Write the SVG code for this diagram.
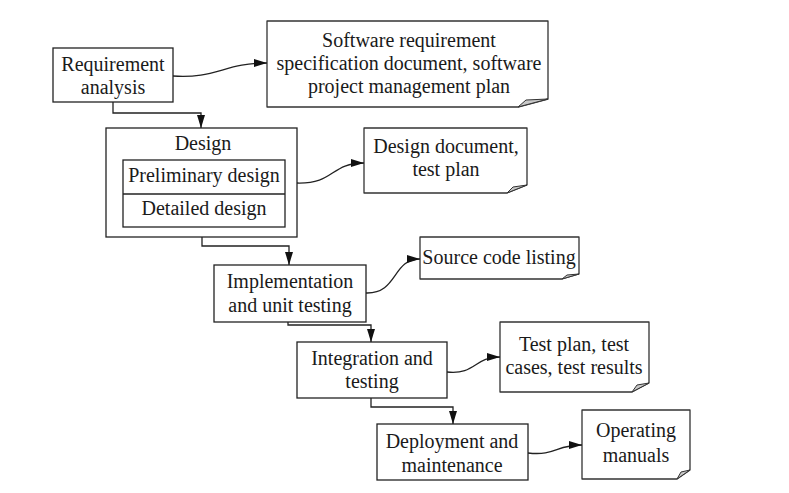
<svg xmlns="http://www.w3.org/2000/svg" width="789" height="493" viewBox="0 0 789 493">
<style>
.box{fill:#fff;stroke:#222;stroke-width:1.3}
.doc{fill:#fff;stroke:#333;stroke-width:1.3;stroke-linejoin:round}
.fold{fill:#c8c8c8;stroke:#333;stroke-width:1;stroke-linejoin:round}
.t{font-family:"Liberation Serif","Times New Roman",serif;font-size:20px;fill:#1a1a1a;text-anchor:middle}
.c{fill:none;stroke:#222;stroke-width:1.3}
</style>
<defs>
<marker id="ah" markerUnits="userSpaceOnUse" markerWidth="14" markerHeight="10" refX="13" refY="5" orient="auto">
<path d="M0,1 L13,5 L0,9 Z" fill="#111"/>
</marker>
</defs>
<rect width="789" height="493" fill="#fff"/>

<g id="req">
<rect class="box" x="53" y="48" width="120" height="54"/>
<text class="t" x="113" y="71">Requirement</text>
<text class="t" x="113" y="94">analysis</text>
</g>

<g id="doc1">
<path class="doc" d="M267,21 H548 V99 L518,107 H267 Z"/>
<path class="fold" d="M518,107 L526,100 L548,99 Z"/>
<text class="t" x="409" y="47">Software requirement</text>
<text class="t" x="409" y="70">specification document, software</text>
<text class="t" x="409" y="93">project management plan</text>
</g>

<g id="design">
<rect class="box" x="106" y="128" width="191" height="109"/>
<text class="t" x="203" y="150">Design</text>
<rect class="box" x="123" y="160" width="162" height="67"/>
<line class="box" x1="123" y1="194" x2="285" y2="194"/>
<text class="t" x="204" y="182">Preliminary design</text>
<text class="t" x="204" y="215">Detailed design</text>
</g>

<g id="doc2">
<path class="doc" d="M364,128 H527 V185 L507,193 H364 Z"/>
<path class="fold" d="M507,193 L513,187 L527,185 Z"/>
<text class="t" x="446" y="153">Design document,</text>
<text class="t" x="446" y="176">test plan</text>
</g>

<g id="impl">
<rect class="box" x="214" y="265" width="152" height="57"/>
<text class="t" x="290" y="288">Implementation</text>
<text class="t" x="290" y="312">and unit testing</text>
</g>

<g id="doc3">
<path class="doc" d="M420,237 H579 V274 L562,279 H420 Z"/>
<path class="fold" d="M562,279 L567,275 L579,274 Z"/>
<text class="t" x="499" y="264">Source code listing</text>
</g>

<g id="integ">
<rect class="box" x="297" y="342" width="150" height="56"/>
<text class="t" x="372" y="365">Integration and</text>
<text class="t" x="372" y="388">testing</text>
</g>

<g id="doc4">
<path class="doc" d="M500,322 H649 V383 L632,392 H500 Z"/>
<path class="fold" d="M632,392 L637,385 L649,383 Z"/>
<text class="t" x="574" y="351">Test plan, test</text>
<text class="t" x="574" y="374">cases, test results</text>
</g>

<g id="deploy">
<rect class="box" x="377" y="424" width="151" height="56"/>
<text class="t" x="452" y="448">Deployment and</text>
<text class="t" x="452" y="472">maintenance</text>
</g>

<g id="doc5">
<path class="doc" d="M582,410 H690 V470 L677,479 H582 Z"/>
<path class="fold" d="M677,479 L681,472 L690,470 Z"/>
<text class="t" x="636" y="437">Operating</text>
<text class="t" x="636" y="462">manuals</text>
</g>

<g id="connectors">
<path class="c" d="M113,102 V113 H201 V128" marker-end="url(#ah)"/>
<path class="c" d="M202,237 V246 H289 V265" marker-end="url(#ah)"/>
<path class="c" d="M288,322 V325 H371 V342" marker-end="url(#ah)"/>
<path class="c" d="M371,398 V407 H453 V424" marker-end="url(#ah)"/>
<path class="c" d="M173,76 C215,79 225,63 267,63" marker-end="url(#ah)"/>
<path class="c" d="M297,183 C335,184 330,163 364,163" marker-end="url(#ah)"/>
<path class="c" d="M366,293 C398,294 392,259 420,259" marker-end="url(#ah)"/>
<path class="c" d="M447,372 C476,375 474,357 500,357" marker-end="url(#ah)"/>
<path class="c" d="M528,453 C556,456 555,445 582,445" marker-end="url(#ah)"/>
</g>
</svg>
